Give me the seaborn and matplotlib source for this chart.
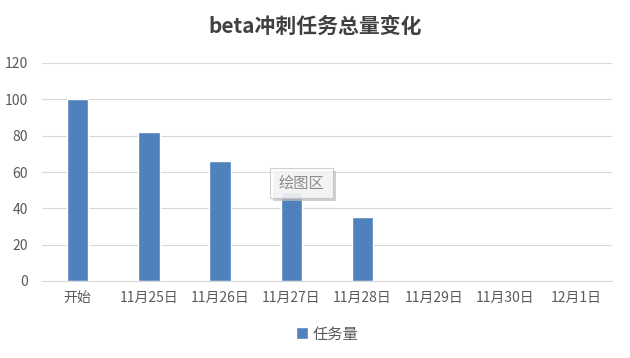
import numpy as np
import pandas as pd
import matplotlib
matplotlib.use("Agg")
import matplotlib.pyplot as plt
import matplotlib.patches as mpatches
import seaborn as sns

# 数据
categories = ["开始", "11月25日", "11月26日", "11月27日", "11月28日", "11月29日", "11月30日", "12月1日"]
task_counts = [100, 82, 66, 49, 35, np.nan, np.nan, np.nan]
series_name = "任务量"

df = pd.DataFrame({"日期": categories, "任务量": task_counts})

sns.set_style("white")
plt.rcParams['font.family'] = ['Noto Sans CJK SC', 'DejaVu Sans']

W, H = 630, 358
fig = plt.figure(figsize=(6.3, 3.58), dpi=100)
ax = fig.add_axes([42 / W, 1 - 281 / H, 570 / W, 218 / H])

sns.barplot(data=df, x="日期", y="任务量", color="#4f81bd", saturation=1,
            width=0.3, ax=ax, label=series_name)

ax.set_xlim(-0.5, len(categories) - 0.5)
ax.set_ylim(0, 120)
ax.set_yticks(range(0, 121, 20))
ax.yaxis.grid(True, color="#d9d9d9", linewidth=0.8)
ax.set_axisbelow(True)
for s in ["top", "right", "left"]:
    ax.spines[s].set_visible(False)
ax.spines["bottom"].set_color("#d9d9d9")
ax.tick_params(axis="both", length=0, labelsize=10, colors="#595959")
ax.tick_params(axis="x", pad=7)
ax.tick_params(axis="y", pad=10)
ax.set_xlabel("")
ax.set_ylabel("")

fig.text(0.5, 1 - 26 / H, "beta冲刺任务总量变化", ha="center", va="center",
         fontsize=15, fontweight="bold", color="#404040")

# 绘图区 提示框（带阴影）
bx, by, bw, bh = 270, 168, 63, 30
fig.patches.append(mpatches.Rectangle((( bx + 3) / W, 1 - (by + bh + 3) / H), bw / W, bh / H,
                                      transform=fig.transFigure, fc="#bdbdbd", ec="none",
                                      alpha=0.7, zorder=5))
fig.patches.append(mpatches.Rectangle((bx / W, 1 - (by + bh) / H), bw / W, bh / H,
                                      transform=fig.transFigure, fc="white", ec="#bfbfbf",
                                      lw=0.8, alpha=0.75, zorder=6))
fig.text((bx + bw / 2) / W, 1 - (by + bh / 2) / H, "绘图区", ha="center", va="center",
         fontsize=11, color="#8c8c8c", zorder=7)

ax.legend(loc="center", bbox_to_anchor=(0.5, (281 - 334) / 218), frameon=False,
          fontsize=11, handlelength=0.8, handleheight=0.8, handletextpad=0.3,
          labelcolor="#595959")

fig.savefig("out.png", dpi=100)
